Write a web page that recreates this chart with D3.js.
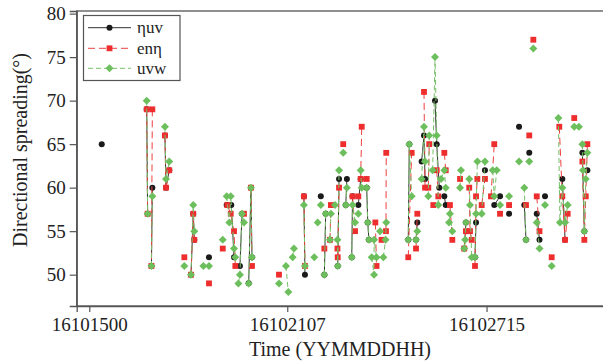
<!DOCTYPE html>
<html><head><meta charset="utf-8">
<script src="https://cdn.jsdelivr.net/npm/d3@7"></script>
<style>body{margin:0;background:#fff}svg{display:block}</style>
</head><body><svg id="c" width="603" height="361"></svg>
<script>
// x: hours since 16101500 ; null = gap in the line
const xTickValues = [0, 151, 303];
const xTickLabels = ["16101500", "16102107", "16102715"];
const yTickValues = [50, 55, 60, 65, 70, 75, 80];
const seriesNames = ["ηuv", "enη", "uvw"];

const etaUV = [
 [9.5,65], null,
 [43.8,69],[44.5,57], null,
 [47.4,51],[48.1,60], null,
 [57.7,66],[58.5,60],[61,62], null,
 [77.6,50],[79.3,57],[80.1,54], null,
 [91.3,52], null,
 [104.8,58],[108.3,58],[110.4,52], null,
 [114.9,51],[116.5,57], null,
 [121.6,49],[123.3,60],[124.1,52], null,
 [163.7,59],[164.5,50], null,
 [176.6,59], null,
 [179.3,50],[180.3,57], null,
 [189.5,51],[190.5,61], null,
 [195.6,58],[196.5,61], null,
 [200.2,52],[200.8,59], null,
 [205.2,58],[207,61], null,
 [211.6,60],[212.4,56],[213.3,54], null,
 [243.3,54],[244.1,65], null,
 [249.2,54],[250.2,56], null,
 [253.5,63],[255.3,66],[256.1,61], null,
 [263.7,70],[265,65],[267,60], null,
 [270.8,59],[271.9,58], null,
 [286,53],[287.3,56], null,
 [294.2,52],[295,56], null,
 [301.8,62], null,
 [308.9,58],[313.3,59], null,
 [320.2,57], null,
 [327.8,67], null,
 [331.8,58],[333.1,54], null,
 [335.6,64], null,
 [341.3,57],[343.4,54], null,
 [347.6,59], null,
 [360.8,61],[362.9,54], null,
 [376.1,64],[377.6,55], null,
 [379.9,62]
];

const enEta = [
 [43.8,69],[44.5,57], null,
 [48.1,69],[47.4,51], null,
 [57.7,66],[58.5,60],[61,62], null,
 [72.5,52], null,
 [77.6,50],[79.3,57],[80.1,54], null,
 [91.3,49], null,
 [101.8,53], null,
 [105.3,58],[107.9,57],[110.4,55],[111.4,51], null,
 [118,57], null,
 [123.3,60],[124.1,51], null,
 [144.7,50], null,
 [163.7,59],[164.5,51], null,
 [179.3,53], null,
 [183.6,54],[184.3,58], null,
 [189.3,53],[189.5,52],[190.5,60], null,
 [193.7,65], null,
 [200.8,59],[202.7,55], null,
 [205.2,59], null,
 [207,61],[207.8,67], null,
 [211.6,61], null,
 [218.2,56],[219.1,51], null,
 [222.9,54], null,
 [226.3,55],[226.5,64], null,
 [243.3,52],[245.9,64], null,
 [249.2,53],[250.2,57], null,
 [255.3,71],[256.1,60], null,
 [258.6,60],[259.3,65], null,
 [262.4,58], null,
 [265,62],[266.2,59], null,
 [270.8,64],[271.9,62], null,
 [275.1,58],[276.9,54], null,
 [282.8,61], null,
 [286,53],[287.3,55], null,
 [289.8,60],[290.4,55],[291.7,54], null,
 [294.2,51],[295,59],[296,61], null,
 [299.3,58],[301.8,61], null,
 [306.4,59],[308.9,65], null,
 [313.3,57], null,
 [320.2,58], null,
 [333.1,58], null,
 [335.6,66], null,
 [338.7,77], null,
 [341.3,59],[343.4,55], null,
 [352.7,52], null,
 [358.5,67],[360.8,59],[362.9,54],[364.9,57], null,
 [369.9,68], null,
 [376.1,63],[377.6,54],[378.7,59],[379.9,65]
];

const uvw = [
 [43.8,70],[44.5,57], null,
 [47.4,51],[48.1,59], null,
 [57.7,67],[58.5,61],[61,63], null,
 [72.5,51], null,
 [77.6,50],[79.3,58],[80.1,55], null,
 [87,51], null,
 [91.3,51], null,
 [101.8,54], null,
 [104.8,59],[106.8,56],[107.9,59],[110.4,53],[111.4,52], null,
 [113.7,49],[114.9,50],[116.5,57],[118,56], null,
 [121.6,49],[123.3,60],[124.1,52], null,
 [144.7,49], null,
 [150,51],[151.8,48], null,
 [155.1,52],[156.1,53], null,
 [163.7,58],[164.5,51], null,
 [171.6,52], null,
 [174.2,56], null,
 [176.6,58], null,
 [179.3,50],[180.3,57], null,
 [183.6,54],[184.3,57], null,
 [187.4,58], null,
 [189.3,54],[189.5,51],[190.5,62], null,
 [193.7,64], null,
 [195.6,58],[196.5,60], null,
 [200.2,52],[200.8,58],[202.7,56], null,
 [205.2,57], null,
 [207,62],[207.8,60], null,
 [211.6,60],[212.4,56],[213.3,54], null,
 [215.4,52],[217.2,50],[217.2,54],[219.1,52], null,
 [221.8,55], null,
 [224.3,52],[226,54],[226.5,56], null,
 [243.3,54],[244.1,65],[245.9,59], null,
 [249.2,54],[250.2,55], null,
 [253.5,61],[255.3,67],[256.1,63], null,
 [258.6,59],[259.3,66], null,
 [261.9,62],[263.7,75],[265,66],[266.2,58], null,
 [268.3,61],[270.8,62],[271.9,60], null,
 [274.4,56],[275.1,57],[276.9,55], null,
 [282.8,60],[283.5,62], null,
 [286,53],[286.7,54],[287.3,56], null,
 [289.8,61],[290.4,58],[291.7,52], null,
 [294.2,52],[295,57],[296,63], null,
 [299.3,57],[301.8,63], null,
 [307.7,62],[308.9,59],[310.8,62], null,
 [313.3,58], null,
 [320.2,59], null,
 [327.8,63], null,
 [331.8,60],[333.1,54], null,
 [335.6,63], null,
 [338.7,76], null,
 [341.3,56],[343.4,53], null,
 [347.6,58], null,
 [352.7,51], null,
 [357.8,68],[359,56],[360.8,60],[362.9,56],[364.9,58], null,
 [369.9,67], null,
 [373.5,67], null,
 [376.1,65],[376.6,62],[377.6,55],[378.7,61],[379.9,64]
];

const svg = d3.select("#c");
const x = d3.scaleLinear().domain([-9.6, 392.6]).range([76.7, 604]);
const y = d3.scaleLinear().domain([46.4, 80.3]).range([306, 11]);
const serif = "'Liberation Serif','Times New Roman',serif";
const frameColor = "#555";

const styles = [
  {data: etaUV, color: "#1a1a1a", line: "#333", dash: null, shape: "circle"},
  {data: enEta, color: "#ee2e2e", line: "#ee4040", dash: "7,4", shape: "square"},
  {data: uvw,   color: "#6cbf5c", line: "#77c068", dash: "5,3", shape: "diamond"}
];

const lineGen = d3.line().defined(d => d).x(d => x(d[0])).y(d => y(d[1]));

function marker(g, shape, color) {
  if (shape === "circle") {
    return g.append("circle").attr("r", 3).attr("fill", color);
  } else if (shape === "square") {
    return g.append("path").attr("d", d3.symbol(d3.symbolSquare, 34)()).attr("fill", color);
  } else {
    return g.append("path").attr("d", d3.symbol(d3.symbolSquare, 32)()).attr("fill", color);
  }
}

const plot = svg.append("g");
styles.forEach(s => {
  plot.append("path").datum(s.data).attr("d", lineGen)
    .attr("fill", "none").attr("stroke", s.line).attr("stroke-width", 1)
    .attr("stroke-dasharray", s.dash);
  s.data.filter(d => d).forEach(d => {
    const g = plot.append("g").attr("transform",
      `translate(${x(d[0])},${y(d[1])})` + (s.shape === "diamond" ? " rotate(45)" : ""));
    marker(g, s.shape, s.color);
  });
});

// frame
svg.append("rect").attr("x", 76.7).attr("y", 11).attr("width", 604 - 76.7).attr("height", 295)
  .attr("fill", "none").attr("stroke", frameColor).attr("stroke-width", 1.3);

// axes
const yAxis = svg.append("g").attr("transform", "translate(76.7,0)")
  .call(d3.axisLeft(y).tickValues(yTickValues).tickSize(7).tickPadding(4).tickFormat(d3.format("d")));
const xAxis = svg.append("g").attr("transform", "translate(0,306)")
  .call(d3.axisBottom(x).tickValues(xTickValues).tickSize(6).tickPadding(6)
    .tickFormat((d, i) => xTickLabels[i]));
[yAxis, xAxis].forEach(a => {
  a.select(".domain").attr("stroke", frameColor).attr("stroke-width", 1.3);
  a.selectAll(".tick line").attr("stroke", frameColor).attr("stroke-width", 1.2);
  a.selectAll("text").attr("font-family", serif).attr("font-size", 19).attr("fill", "#222");
});

// axis titles
svg.append("text").attr("transform", "translate(27,150) rotate(-90)")
  .attr("text-anchor", "middle").attr("font-family", serif).attr("font-size", 20).attr("fill", "#222")
  .text("Directional spreading(°)");
svg.append("text").attr("x", 340).attr("y", 356)
  .attr("text-anchor", "middle").attr("font-family", serif).attr("font-size", 20).attr("fill", "#222")
  .text("Time (YYMMDDHH)");

// legend
const leg = svg.append("g");
leg.append("rect").attr("x", 83.5).attr("y", 15.5).attr("width", 96.5).attr("height", 65)
  .attr("fill", "#fff").attr("stroke", frameColor).attr("stroke-width", 1.2);
const legY = [27.7, 48.3, 68.3];
styles.forEach((s, i) => {
  leg.append("line").attr("x1", 88).attr("x2", 131).attr("y1", legY[i]).attr("y2", legY[i])
    .attr("stroke", s.line).attr("stroke-width", 1).attr("stroke-dasharray", s.dash);
  const g = leg.append("g").attr("transform",
    `translate(109.5,${legY[i]})` + (s.shape === "diamond" ? " rotate(45)" : ""));
  marker(g, s.shape, s.color);
  leg.append("text").attr("x", 137).attr("y", legY[i]).attr("dy", "0.32em")
    .attr("font-family", serif).attr("font-size", 17).attr("fill", "#222").text(seriesNames[i]);
});
</script></body></html>
